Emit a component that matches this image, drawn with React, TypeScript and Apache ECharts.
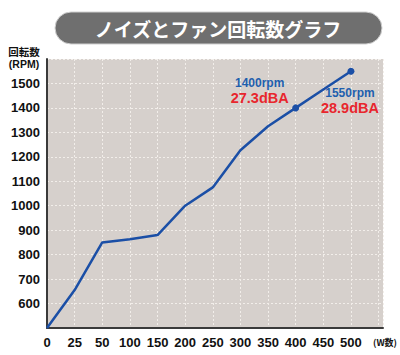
import React, { useEffect, useRef } from "react";
import * as echarts from "echarts";

const wattLabels = ["0", "25", "50", "100", "150", "200", "250", "300", "350", "400", "450", "500"];
const rpmValues = [500, 655, 850, 863, 880, 1000, 1075, 1227, 1325, 1400, 1475, 1550];
const markedIndex = [9, 11];
const noteRpm = ["1400rpm", "1550rpm"];
const noteDba = ["27.3dBA", "28.9dBA"];
const titleText = "ノイズとファン回転数グラフ";

const NUM_FONT = "'Liberation Sans', Arial, sans-serif";
const CJK_FONT = "'Noto Sans CJK JP', sans-serif";

export default function App() {
  const ref = useRef<HTMLDivElement>(null);
  useEffect(() => {
    if (!ref.current) return;
    const chart = echarts.init(ref.current, null, { renderer: "svg" });
    const offsets: Record<number, number[]> = { 9: [-36, -17], 11: [-1, 30] };
    const data = rpmValues.map((v, i) => {
      const k = markedIndex.indexOf(i);
      if (k < 0) return { value: [i, v], symbolSize: 0 };
      return {
        value: [i, v],
        symbolSize: 7,
        label: {
          show: true,
          position: "inside",
          offset: offsets[i],
          formatter: `{a|${noteRpm[k]}}\n{b|${noteDba[k]}}`,
          rich: {
            a: { fontFamily: NUM_FONT, fontWeight: "bold", fontSize: 12, color: "#1f5fae", lineHeight: 14, align: "center" },
            b: { fontFamily: NUM_FONT, fontWeight: "bold", fontSize: 14.5, color: "#e8262d", lineHeight: 16, align: "center" },
          },
        },
      };
    });
    chart.setOption({
      animation: false,
      backgroundColor: "#ffffff",
      grid: { left: 47, top: 59, right: 17, bottom: 27, show: true, backgroundColor: "#d6d0cc", borderWidth: 0 },
      xAxis: {
        type: "value",
        min: 0,
        max: 12.16,
        interval: 1,
        axisLine: { show: true, onZero: false, lineStyle: { color: "#3a3a3a", width: 2 } },
        axisTick: { show: false },
        splitLine: { show: true, lineStyle: { color: "#f2eeea", type: [2, 2], width: 1 } },
        axisLabel: {
          margin: 8,
          fontFamily: NUM_FONT,
          fontWeight: "bold",
          fontSize: 13,
          color: "#111",
          formatter: (v: number) => (Number.isInteger(v) && wattLabels[v] !== undefined ? wattLabels[v] : ""),
        },
      },
      yAxis: {
        type: "value",
        min: 500,
        max: 1600,
        interval: 100,
        axisLine: { show: true, lineStyle: { color: "#3a3a3a", width: 2 } },
        axisTick: { show: false },
        splitLine: { show: true, lineStyle: { color: "#f2eeea", type: [2, 2], width: 1 } },
        axisLabel: {
          margin: 7,
          fontFamily: NUM_FONT,
          fontWeight: "bold",
          fontSize: 13,
          color: "#111",
          formatter: (v: number) => (v === 500 || v >= 1600 ? "" : String(v)),
        },
      },
      series: [
        {
          type: "line",
          data,
          symbol: "circle",
          lineStyle: { color: "#1b4fa6", width: 2.5 },
          itemStyle: { color: "#1b4fa6" },
          z: 3,
        },
      ],
      graphic: [
        { type: "rect", shape: { x: 55, y: 12, width: 327, height: 32, r: 16 }, style: { fill: "#6f6f6f", stroke: "#d0d0d0", lineWidth: 1 } },
        { type: "text", x: 218, y: 28, style: { text: titleText, fill: "#ffffff", font: `bold 19px ${CJK_FONT}`, textAlign: "center", textVerticalAlign: "middle" } },
        { type: "text", x: 24, y: 51, style: { text: "回転数", fill: "#111", font: `bold 10.5px ${CJK_FONT}`, textAlign: "center", textVerticalAlign: "middle" } },
        { type: "text", x: 24, y: 64, style: { text: "(RPM)", fill: "#111", font: `bold 10.5px ${NUM_FONT}`, textAlign: "center", textVerticalAlign: "middle" } },
        { type: "text", x: 385, y: 342, style: { text: "(W数)", fill: "#111", font: `bold 9px ${CJK_FONT}`, textAlign: "center", textVerticalAlign: "middle" } },
      ],
    });
    return () => chart.dispose();
  }, []);
  return <div ref={ref} style={{ position: "fixed", left: 0, top: 0, width: 400, height: 355 }} />;
}
